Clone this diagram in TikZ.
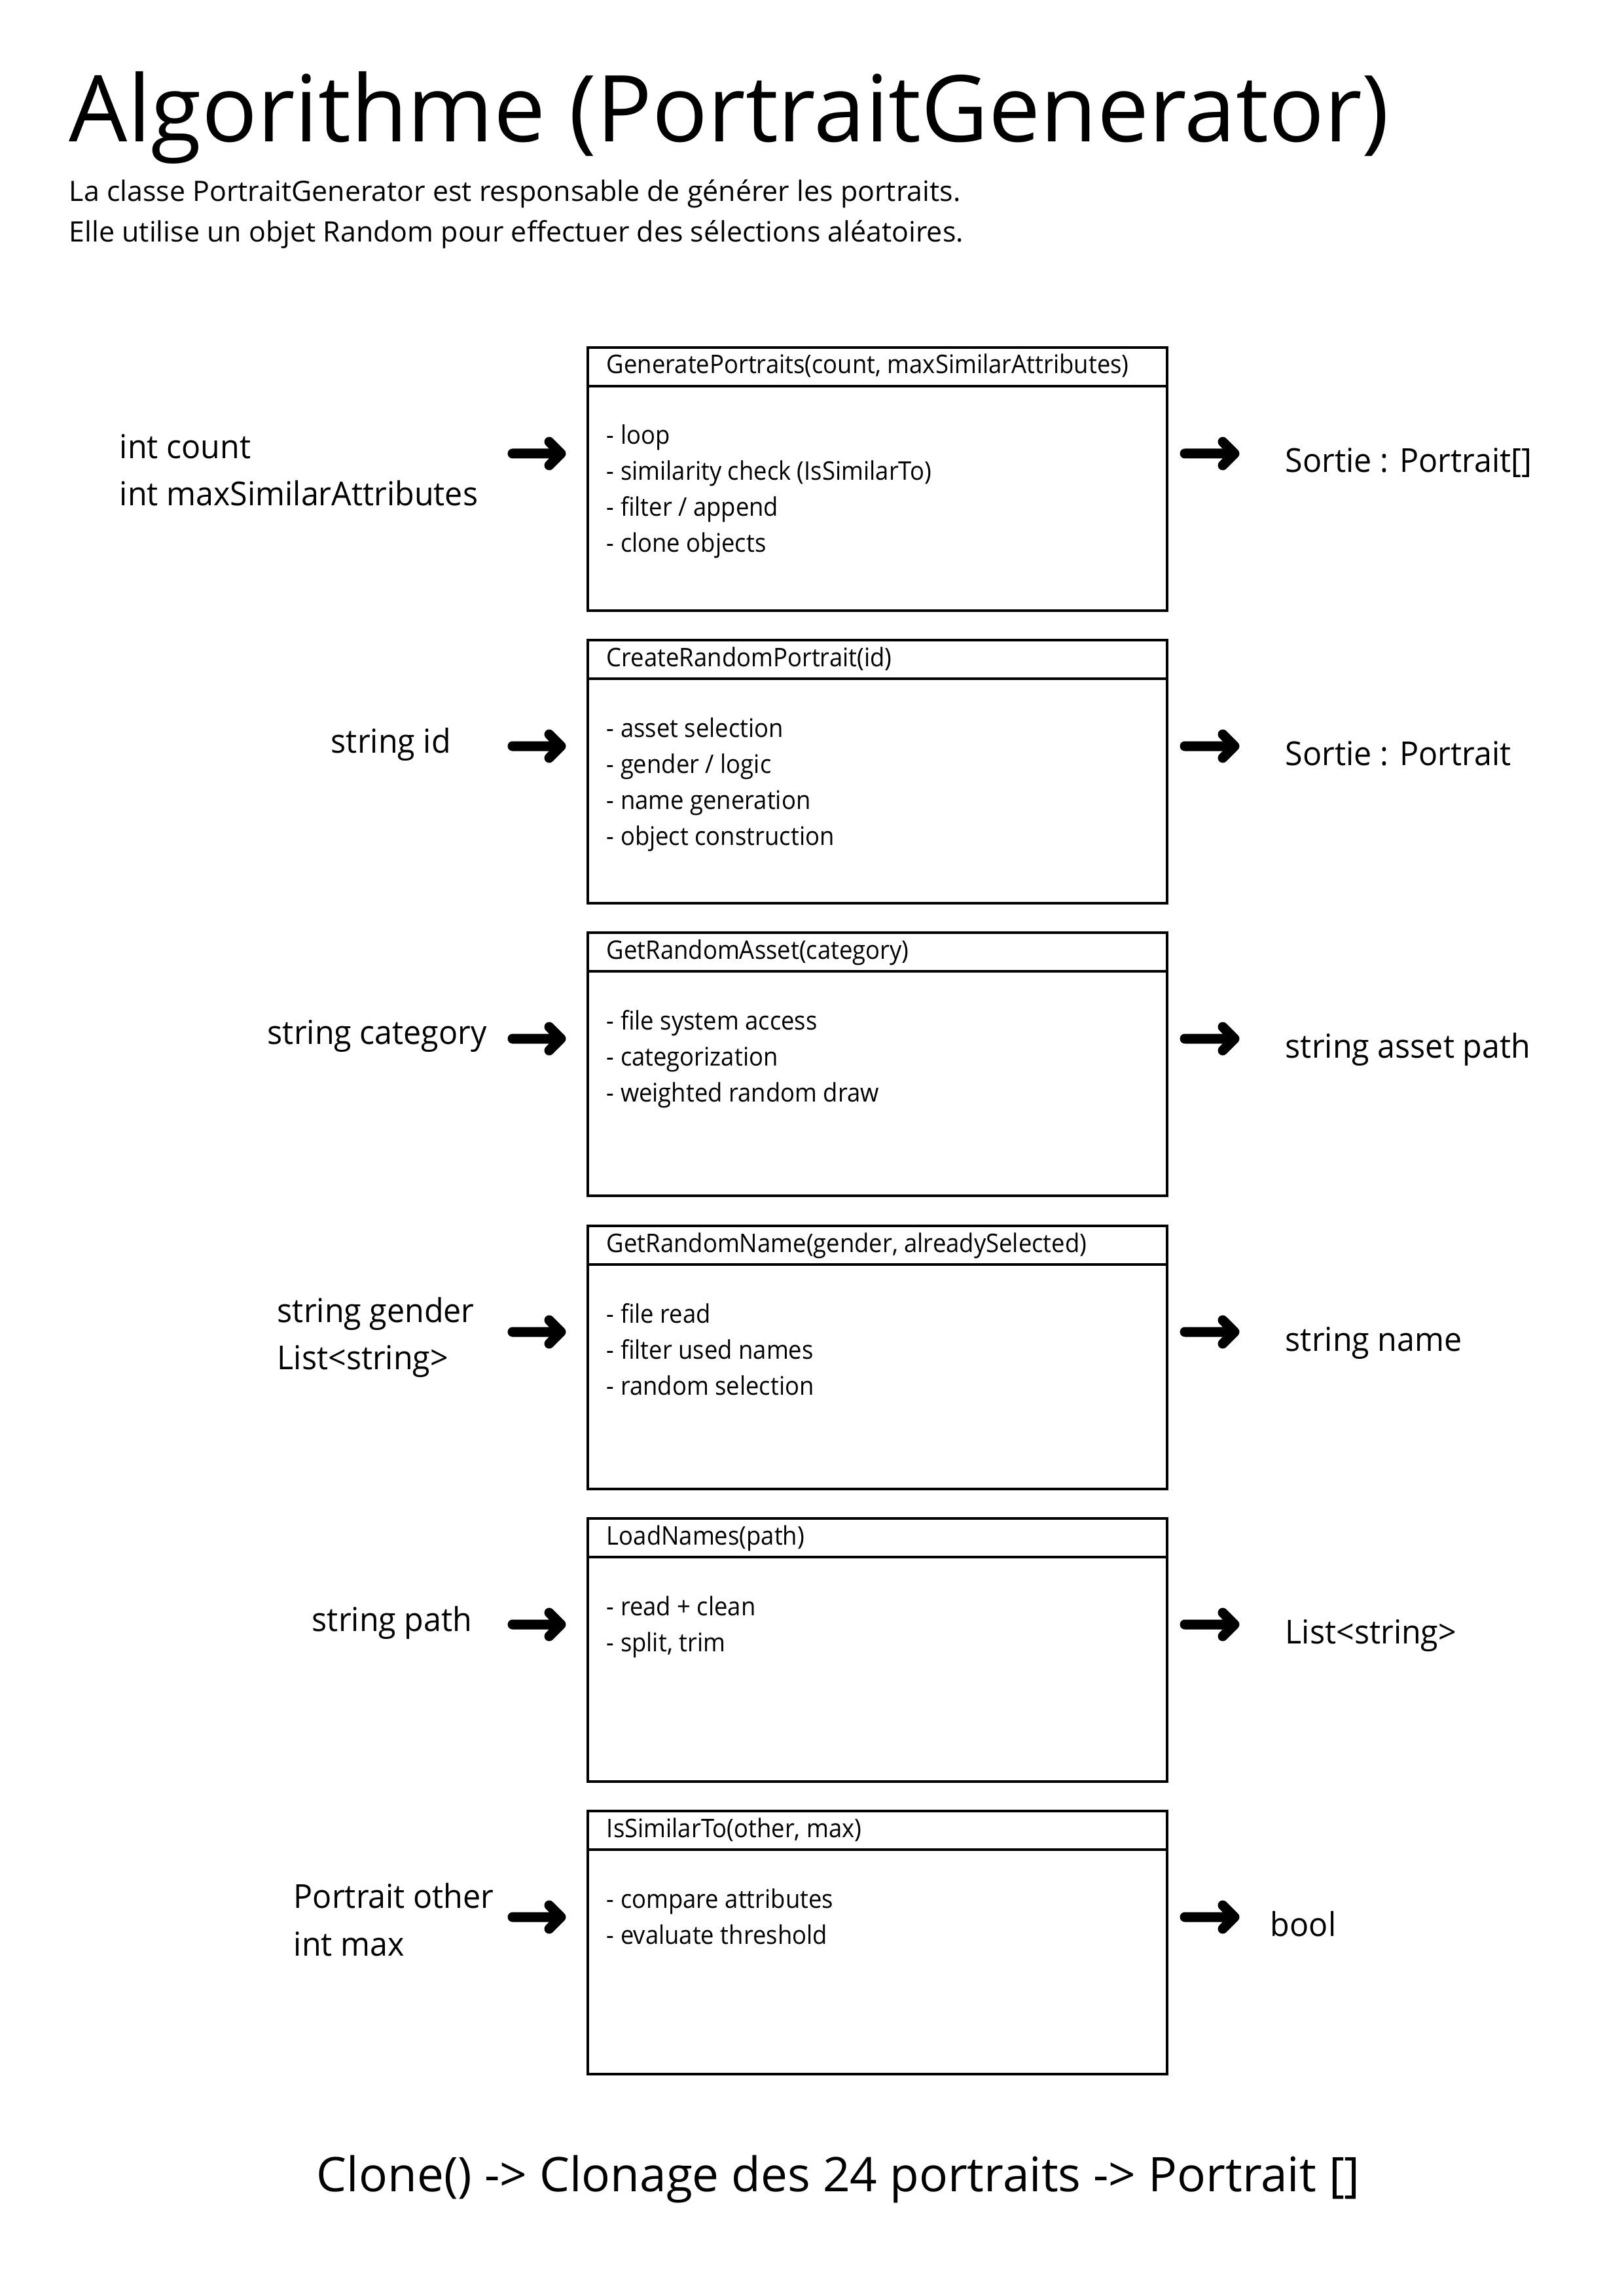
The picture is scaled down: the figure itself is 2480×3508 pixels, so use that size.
\documentclass[tikz,border=0pt]{standalone}
\usepackage{fontspec}
\setmainfont{Open Sans}
\newfontfamily\boxfont{Open Sans}[FakeStretch=0.93]
\newfontfamily\lblfont{Open Sans}[FakeStretch=0.96]
\usetikzlibrary{calc}

% one method box: name, top edge, header text, list of body lines
\newcommand\methodbox[4]{%
  \node[methbox] (#1) at (898,#2) {};
  \draw[boxline] ($(#1.north west)+(0,59)$) -- ($(#1.north east)+(0,59)$);
  \node[boxtxt] (#1h) at ($(#1.north west)+(28,40)$) {#3};
  \foreach \entry [count=\n] in {#4} {
    \node[boxtxt] (#1i\n) at ($(#1.north west)+(28,148+55*\n-55)$) {\entry};
  }
}
% thick arrow glyph from a named start to a named tip
\newcommand\fatarrow[2]{%
  \draw[arrowstroke] (#1) -- (#2) ($(#2)+(-18,-18)$) -- (#2) -- ($(#2)+(-18,18)$);
}
% input and output arrows of one box
\newcommand\rowarrows[1]{%
  \coordinate (#1ls) at ($(#1.north west)+(-115,162)$);
  \coordinate (#1le) at ($(#1.north west)+(-41,162)$);
  \coordinate (#1rs) at ($(#1.north east)+(27,162)$);
  \coordinate (#1re) at ($(#1.north east)+(103,162)$);
  \fatarrow{#1ls}{#1le}
  \fatarrow{#1rs}{#1re}
}

\begin{document}
\begin{tikzpicture}[x=0.24pt,y=-0.24pt,
  methbox/.style={draw, line width=1.1pt, anchor=north west, inner sep=0pt, outer sep=0pt,
    minimum width=212.4pt, minimum height=96.5pt},
  boxline/.style={line width=1.1pt},
  boxtxt/.style={anchor=base west, inner sep=0pt, font=\boxfont\fontsize{9.4pt}{11pt}\selectfont},
  lbl/.style={anchor=base west, inner sep=0pt, font=\lblfont\fontsize{12.1pt}{14pt}\selectfont},
  arrowstroke/.style={line width=3.6pt, line cap=round, line join=round}]
\fill[white] (0,0) rectangle (2480,3508);
\useasboundingbox (0,0) rectangle (2480,3508);

% heading
\node[anchor=base west, inner sep=0pt, font=\fontsize{33.85pt}{40pt}\selectfont] (title) at (105,217)
  {Algorithme (PortraitGenerator)};
\node[anchor=base west, inner sep=0pt, font=\fontsize{10.3pt}{12pt}\selectfont] (intro1) at (105,308)
  {La classe PortraitGenerator est responsable de générer les portraits.};
\node[anchor=base west, inner sep=0pt, font=\fontsize{10.3pt}{12pt}\selectfont] (intro2) at (105,370)
  {Elle utilise un objet Random pour effectuer des sélections aléatoires.};

% method boxes
\methodbox{gen}{531}{GeneratePortraits(count, maxSimilarAttributes)}
  {- loop, - similarity check (IsSimilarTo), - filter / append, - clone objects}
\methodbox{crp}{978}{CreateRandomPortrait(id)}
  {- asset selection, - gender / logic, - name generation, - object construction}
\methodbox{gra}{1425}{GetRandomAsset(category)}
  {- file system access, - categorization, - weighted random draw}
\methodbox{grn}{1873}{GetRandomName(gender, alreadySelected)}
  {- file read, - filter used names, - random selection}
\methodbox{ldn}{2320}{LoadNames(path)}
  {- read + clean, {- split, trim}}
\methodbox{sim}{2767}{IsSimilarTo(other, max)}
  {- compare attributes, - evaluate threshold}

% inputs
\node[lbl] (genin1) at (182,701) {int count};
\node[lbl] (genin2) at (182,773) {int maxSimilarAttributes};
\node[lbl] (crpin) at (505,1150) {string id};
\node[lbl] (grain) at (408,1595) {string category};
\node[lbl] (grnin1) at (423,2020) {string gender};
\node[lbl] (grnin2) at (423,2092) {List<string>};
\node[lbl] (ldnin) at (476,2492) {string path};
\node[lbl] (simin1) at (448,2915) {Portrait other};
\node[lbl] (simin2) at (448,2988) {int max};

% outputs
\node[lbl] (genout) at (1963,722) {Sortie : Portrait[]};
\node[lbl] (crpout) at (1963,1169) {Sortie : Portrait};
\node[lbl] (graout) at (1963,1616) {string asset path};
\node[lbl] (grnout) at (1963,2064) {string name};
\node[lbl] (ldnout) at (1963,2511) {List<string>};
\node[lbl] (simout) at (1940,2958) {bool};

% arrows
\rowarrows{gen}
\rowarrows{crp}
\rowarrows{gra}
\rowarrows{grn}
\rowarrows{ldn}
\rowarrows{sim}

% closing line
\node[anchor=base west, inner sep=0pt, font=\fontsize{17.5pt}{20pt}\selectfont] (clone) at (483,3348)
  {Clone() -> Clonage des 24 portraits -> Portrait []};
\end{tikzpicture}
\end{document}
